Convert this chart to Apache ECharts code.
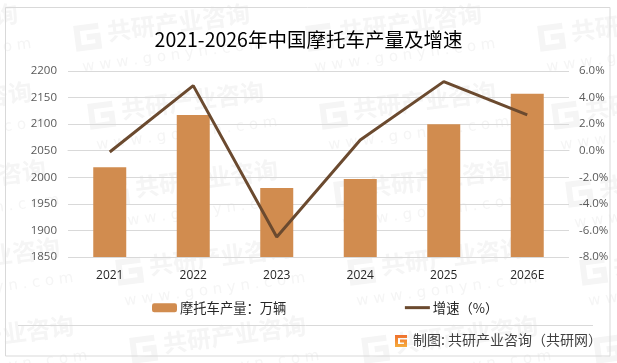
<!DOCTYPE html>
<html>
<head>
<meta charset="utf-8">
<script src="https://cdn.jsdelivr.net/npm/echarts@6/dist/echarts.min.js"></script>
<style>
html,body{margin:0;padding:0;background:#fff}
#main{width:617px;height:363px}
</style>
</head>
<body>
<div id="main"></div>
<script>
var categories = ['2021', '2022', '2023', '2024', '2025', '2026E'];
var output = [2019, 2117, 1980, 1997, 2100, 2157];
var growth = [-0.1, 4.9, -6.5, 0.8, 5.2, 2.7];
var cnFont = '"Noto Sans CJK SC", "Noto Sans", sans-serif';
var latinFont = '"Open Sans", "Noto Sans CJK SC", sans-serif';

// faint repeated watermark behind the chart
var graphics = [];
var markColor = '#f5f5f5';
function watermark(x, y) {
    graphics.push({
        type: 'group', x: x, y: y, rotation: 0.13, z: -5,
        children: [
            {type: 'polyline', z: -5, shape: {points: [[25, 4], [3, 4], [3, 24], [23, 24], [23, 14], [12, 14]]},
                style: {fill: 'none', stroke: markColor, lineWidth: 6}},
            {type: 'text', x: 33, y: -1, z: -5, style: {text: '共研产业咨询', fill: markColor, font: 'bold 24px ' + cnFont}},
            {type: 'text', x: 4, y: 36, z: -5, style: {text: 'w w w . g o n y n . c o m', fill: markColor, font: '15px "DejaVu Sans"'}}
        ]
    });
}
for (var c = 0; c < 4; c++) {
    for (var r = 0; r < 5; r++) {
        watermark(-159 + c * 232 + r * 14, 25 + r * 78);
    }
}

// frame, footer rule and source line
graphics.push(
    {type: 'rect', z: 0, shape: {x: 5.5, y: 7.5, width: 604.5, height: 348.5}, style: {fill: 'none', stroke: '#d9d9d9', lineWidth: 1}},
    {type: 'line', z: 0, shape: {x1: 18, y1: 325.5, x2: 593, y2: 325.5}, style: {stroke: '#d9d9d9', lineWidth: 1}},
    {type: 'polyline', z: 1, x: 395, y: 335, shape: {points: [[12, 1.5], [1.5, 1.5], [1.5, 10.5], [10.5, 10.5], [10.5, 6], [5, 6]]}, style: {
        fill: 'none', lineWidth: 3,
        stroke: new echarts.graphic.LinearGradient(0, 0, 0, 1, [{offset: 0, color: '#ee6a2c'}, {offset: 1, color: '#f7b23e'}])
    }},
    {type: 'text', z: 1, x: 413, y: 333, style: {text: '制图: 共研产业咨询（共研网）', fill: '#404040', font: '14px ' + cnFont}}
);

echarts.init(document.getElementById('main'), null, {renderer: 'canvas'}).setOption({
    animation: false,
    backgroundColor: '#fff',
    title: {
        text: '2021-2026年中国摩托车产量及增速',
        left: 'center',
        top: 25,
        textStyle: {color: '#000', fontSize: 19.5, fontWeight: 'normal', fontFamily: cnFont}
    },
    legend: {
        left: 147,
        top: 296,
        itemWidth: 25,
        itemHeight: 9,
        itemGap: 117,
        textStyle: {color: '#262626', fontSize: 13.3, fontFamily: cnFont, padding: [0, 0, 0, -2]},
        data: [{name: '摩托车产量：万辆'}, {name: '增速（%）', itemStyle: {opacity: 0}, lineStyle: {width: 3}}]
    },
    grid: {left: 68, right: 48, top: 71, bottom: 106},
    xAxis: {
        type: 'category',
        data: categories,
        axisTick: {show: false},
        axisLine: {lineStyle: {color: '#d9d9d9', width: 1}},
        axisLabel: {color: '#262626', fontSize: 12, margin: 13, fontFamily: latinFont}
    },
    yAxis: [{
        type: 'value',
        min: 1850,
        max: 2200,
        interval: 50,
        axisLine: {show: false},
        axisTick: {show: false},
        splitLine: {lineStyle: {color: '#d9d9d9', width: 1}},
        axisLabel: {color: '#595959', fontSize: 11.5, margin: 11, fontFamily: latinFont, formatter: function (v) {
            return String(v);
        }}
    }, {
        type: 'value',
        min: -8,
        max: 6,
        interval: 2,
        axisLine: {show: false},
        axisTick: {show: false},
        splitLine: {show: false},
        axisLabel: {color: '#595959', fontSize: 11.5, margin: 10, fontFamily: latinFont, formatter: function (v) {
            return v.toFixed(1) + '%';
        }}
    }],
    series: [{
        name: '摩托车产量：万辆',
        type: 'bar',
        barWidth: 33,
        itemStyle: {color: '#d18c4f'},
        data: output
    }, {
        name: '增速（%）',
        type: 'line',
        yAxisIndex: 1,
        symbol: 'none',
        lineStyle: {color: '#6b4a2f', width: 3},
        itemStyle: {color: '#6b4a2f'},
        data: growth
    }],
    graphic: graphics
});
</script>
</body>
</html>
